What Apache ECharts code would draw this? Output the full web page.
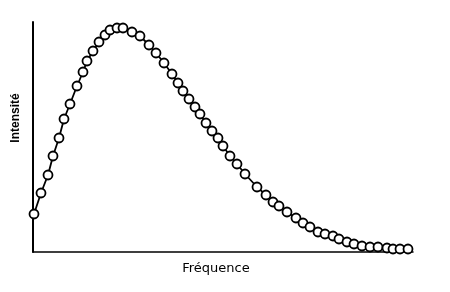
<!DOCTYPE html>
<html>
<head>
<meta charset="utf-8">
<script src="https://cdn.jsdelivr.net/npm/echarts@6/dist/echarts.min.js"></script>
<style>html,body{margin:0;padding:0;background:#fff}#c{width:450px;height:292px}</style>
</head>
<body>
<div id="c"></div>
<script>
var frequency = [1,8,15,20,26,31,37,44,50,54,60,66,72,77,84,90,99,107,116,123,131,139,145,150,156,162,167,173,179,185,190,197,204,212,224,233,240,246,254,263,270,277,285,292,300,306,314,321,329,337,345,354,360,367,375];
var intensity = [38,59,77,96,114,133,148,166,180,191,201,210,217,222,224,224,220,216,207,199,189,178,169,161,153,145,138,129,121,114,106,96,88,78,65,57,50,46,40,34,29,25,20,18,16,13,10,8,6,5,5,4,3,3,3];
var xLabel = 'Fréquence';
var yLabel = 'Intensité';

var points = frequency.map(function (f, i) { return [f, intensity[i]]; });

var chart = echarts.init(document.getElementById('c'));
chart.setOption({
  animation: false,
  backgroundColor: '#fff',
  grid: { left: 33, right: 37, top: 22, bottom: 40 },
  xAxis: {
    type: 'value', min: 0, max: 380,
    axisLine: { show: true, onZero: false, lineStyle: { color: '#000', width: 1.5 } },
    axisTick: { show: false }, axisLabel: { show: false }, splitLine: { show: false }
  },
  yAxis: {
    type: 'value', min: 0, max: 230,
    axisLine: { show: true, onZero: false, lineStyle: { color: '#000', width: 2 } },
    axisTick: { show: false }, axisLabel: { show: false }, splitLine: { show: false }
  },
  graphic: [
    { type: 'text', x: 216, y: 269, style: { text: xLabel, align: 'center', verticalAlign: 'middle', font: '13px "DejaVu Sans"', fill: '#000' } },
    { type: 'text', x: 16, y: 118, rotation: Math.PI / 2, style: { text: yLabel, align: 'center', verticalAlign: 'middle', font: 'bold 12px "Liberation Sans"', fill: '#000' } }
  ],
  series: [{
    type: 'line',
    data: points,
    smooth: false,
    symbol: 'circle',
    symbolSize: 9,
    showAllSymbol: true,
    lineStyle: { color: '#000', width: 1.8 },
    itemStyle: { color: '#fff', borderColor: '#000', borderWidth: 1.8 }
  }]
});
</script>
</body>
</html>
